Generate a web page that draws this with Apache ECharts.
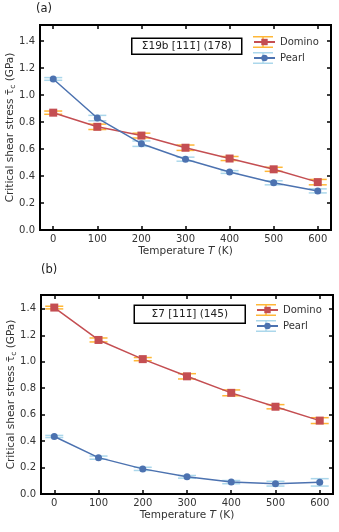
<!DOCTYPE html>
<html>
<head>
<meta charset="utf-8">
<script src="https://cdn.jsdelivr.net/npm/echarts@6/dist/echarts.min.js"></script>
<style>
  html, body { margin: 0; padding: 0; background: #fff; }
  #main { width: 339px; height: 532px; }
</style>
</head>
<body>
<div id="main"></div>
<script>
// temperatures (K)
const temps = [0, 100, 200, 300, 400, 500, 600]
const xTicks = [0, 100, 200, 300, 400, 500, 600]
const yTicks = [0, 0.2, 0.4, 0.6, 0.8, 1.0, 1.2, 1.4]

// (a) Σ19b
const dominoA = [0.87, 0.765, 0.70, 0.61, 0.53, 0.45, 0.355]
const dominoErrA = [0.012, 0.02, 0.018, 0.02, 0.015, 0.015, 0.02]
const pearlA = [1.12, 0.83, 0.64, 0.525, 0.43, 0.35, 0.29]
const pearlErrA = [0.01, 0.02, 0.02, 0.015, 0.01, 0.015, 0.015]

// (b) Σ7
const dominoB = [1.41, 1.165, 1.02, 0.89, 0.765, 0.66, 0.555]
const dominoErrB = [0.01, 0.015, 0.012, 0.02, 0.022, 0.016, 0.022]
const pearlB = [0.435, 0.275, 0.19, 0.13, 0.09, 0.078, 0.088]
const pearlErrB = [0.008, 0.012, 0.012, 0.01, 0.012, 0.018, 0.028]

const RED = '#c44e52'
const BLUE = '#4c72b0'
const ORANGE = 'rgba(255,170,20,0.85)'
const LIGHTBLUE = 'rgba(150,205,230,0.8)'
const FONT = 'DejaVu Sans'

const chart = echarts.init(document.getElementById('main'), null, { renderer: 'canvas' })

function errRender(params, api) {
  const x = api.value(0)
  const p1 = api.coord([x, api.value(2)])
  const p2 = api.coord([x, api.value(1)])
  const w = 9
  const style = { stroke: api.visual('color'), lineWidth: 1.5 }
  return {
    type: 'group',
    children: [
      { type: 'line', shape: { x1: p1[0], y1: p1[1], x2: p2[0], y2: p2[1] }, style },
      { type: 'line', shape: { x1: p1[0] - w, y1: p1[1], x2: p1[0] + w, y2: p1[1] }, style },
      { type: 'line', shape: { x1: p2[0] - w, y1: p2[1], x2: p2[0] + w, y2: p2[1] }, style }
    ]
  }
}

function errData(vals, errs) {
  return temps.map((t, i) => [t, vals[i] - errs[i], vals[i] + errs[i]])
}

function lineData(vals) {
  return temps.map((t, i) => [t, vals[i]])
}

const tickStyle = { show: true, inside: true, length: 4, lineStyle: { color: '#000', width: 1.5 } }
const noLine = { show: false, onZero: false }

function xAxes(grid) {
  return [
    {
      gridIndex: grid, type: 'value', min: -30, max: 630, position: 'bottom',
      axisLine: noLine, splitLine: { show: false },
      axisTick: Object.assign({ customValues: xTicks }, tickStyle),
      axisLabel: { customValues: xTicks, margin: 4, color: '#333', fontSize: 10, fontFamily: FONT },
      name: 'Temperature {i|T} (K)', nameLocation: 'middle', nameGap: 16, nameMoveOverlap: false,
      nameTextStyle: {
        color: '#333', fontSize: 10.5, fontFamily: FONT,
        rich: { i: { fontStyle: 'italic', fontSize: 10.5, fontFamily: FONT, color: '#333' } }
      }
    },
    {
      gridIndex: grid, type: 'value', min: -30, max: 630, position: 'top',
      axisLine: noLine, splitLine: { show: false },
      axisTick: Object.assign({ customValues: xTicks }, tickStyle),
      axisLabel: { show: false }
    }
  ]
}

function yAxes(grid, max) {
  return [
    {
      gridIndex: grid, type: 'value', min: 0, max: max, position: 'left',
      axisLine: noLine, splitLine: { show: false },
      axisTick: Object.assign({ customValues: yTicks }, tickStyle),
      axisLabel: {
        customValues: yTicks, margin: 5, color: '#333', fontSize: 10, fontFamily: FONT,
        formatter: v => v.toFixed(1)
      },
      name: 'Critical shear stress {t|τ\u0304}{s|c} (GPa)', nameLocation: 'middle', nameGap: 23,
      nameMoveOverlap: false,
      nameTextStyle: {
        color: '#333', fontSize: 10.5, fontFamily: FONT,
        rich: {
          t: { fontSize: 10.5, fontFamily: FONT, color: '#333' },
          s: { fontSize: 7.5, fontFamily: FONT, color: '#333', padding: [5, 0, 0, 0] }
        }
      }
    },
    {
      gridIndex: grid, type: 'value', min: 0, max: max, position: 'right',
      axisLine: noLine, splitLine: { show: false },
      axisTick: Object.assign({ customValues: yTicks }, tickStyle),
      axisLabel: { show: false }
    }
  ]
}

function seriesFor(grid, domino, dErr, pearl, pErr) {
  const xi = grid * 2
  const yi = grid * 2
  const sfx = grid === 0 ? '' : ' '
  return [
    {
      name: 'Domino err' + sfx, type: 'custom', xAxisIndex: xi, yAxisIndex: yi,
      renderItem: errRender, data: errData(domino, dErr), itemStyle: { color: ORANGE },
      z: 1, silent: true, animation: false
    },
    {
      name: 'Pearl err' + sfx, type: 'custom', xAxisIndex: xi, yAxisIndex: yi,
      renderItem: errRender, data: errData(pearl, pErr), itemStyle: { color: LIGHTBLUE },
      z: 1, silent: true, animation: false
    },
    {
      name: 'Domino' + sfx, type: 'line', xAxisIndex: xi, yAxisIndex: yi,
      data: lineData(domino), symbol: 'rect', symbolSize: 8,
      itemStyle: { color: RED }, lineStyle: { color: RED, width: 1.5 },
      z: 3, animation: false
    },
    {
      name: 'Pearl' + sfx, type: 'line', xAxisIndex: xi, yAxisIndex: yi,
      data: lineData(pearl), symbol: 'circle', symbolSize: 7,
      itemStyle: { color: BLUE }, lineStyle: { color: BLUE, width: 1.5 },
      z: 3, animation: false
    }
  ]
}

const capIcon = 'path://M0,0h20v1.5h-20zM0,10.5h20v1.5h-20zM9.25,0h1.5v12h-1.5z'

function legends(left, top, sfx) {
  const base = {
    orient: 'vertical', left: left, top: top, padding: 0,
    itemWidth: 21, itemGap: 4, selectedMode: false,
    textStyle: { fontSize: 10, fontFamily: FONT, color: '#333', lineHeight: 12, height: 12 }
  }
  return [
    Object.assign({}, base, {
      data: [{ name: 'Domino err' + sfx, icon: capIcon }, { name: 'Pearl err' + sfx, icon: capIcon }],
      itemHeight: 12,
      formatter: name => name.replace(' err', '').trim(),
      textStyle: Object.assign({}, base.textStyle, { color: 'rgba(0,0,0,0)' }),
      z: 3
    }),
    Object.assign({}, base, {
      data: ['Domino' + sfx, 'Pearl' + sfx],
      itemHeight: 8,
      formatter: name => name.trim(),
      z: 4
    })
  ]
}

function annotBox(x, y, w, h, text) {
  return {
    type: 'group', left: x, top: y,
    children: [
      { type: 'rect', shape: { x: 0, y: 0, width: w, height: h }, style: { fill: '#fff', stroke: '#000', lineWidth: 1.5 } },
      {
        type: 'text', x: w / 2, y: h / 2,
        style: { text: text, fill: '#222', font: '10.5px "DejaVu Sans"', align: 'center', verticalAlign: 'middle' }
      }
    ]
  }
}

const gridBase = {
  show: true, borderColor: '#000', borderWidth: 2, backgroundColor: '#fff',
  containLabel: false, outerBoundsMode: 'none'
}

const option = {
  backgroundColor: '#fff',
  animation: false,
  title: [
    { text: '(a)', left: 36, top: 3, padding: 0, textStyle: { fontSize: 11.5, fontWeight: 'normal', fontFamily: FONT, color: '#222' } },
    { text: '(b)', left: 41, top: 264, padding: 0, textStyle: { fontSize: 11.5, fontWeight: 'normal', fontFamily: FONT, color: '#222' } }
  ],
  grid: [
    Object.assign({ left: 40, top: 25, width: 291, height: 205 }, gridBase),
    Object.assign({ left: 41, top: 295, width: 292, height: 199 }, gridBase)
  ],
  xAxis: xAxes(0).concat(xAxes(1)),
  yAxis: yAxes(0, 1.52).concat(yAxes(1, 1.505)),
  legend: legends(253, 36, '').concat(legends(256, 304, ' ')),
  series: seriesFor(0, dominoA, dominoErrA, pearlA, pearlErrA)
    .concat(seriesFor(1, dominoB, dominoErrB, pearlB, pearlErrB)),
  graphic: [
    annotBox(131, 37.5, 110, 16, 'Σ19b [11\u0031\u0304] (178)'),
    annotBox(133.5, 304.5, 111, 18, 'Σ7 [11\u0031\u0304] (145)')
  ]
}

chart.setOption(option)
</script>
</body>
</html>
